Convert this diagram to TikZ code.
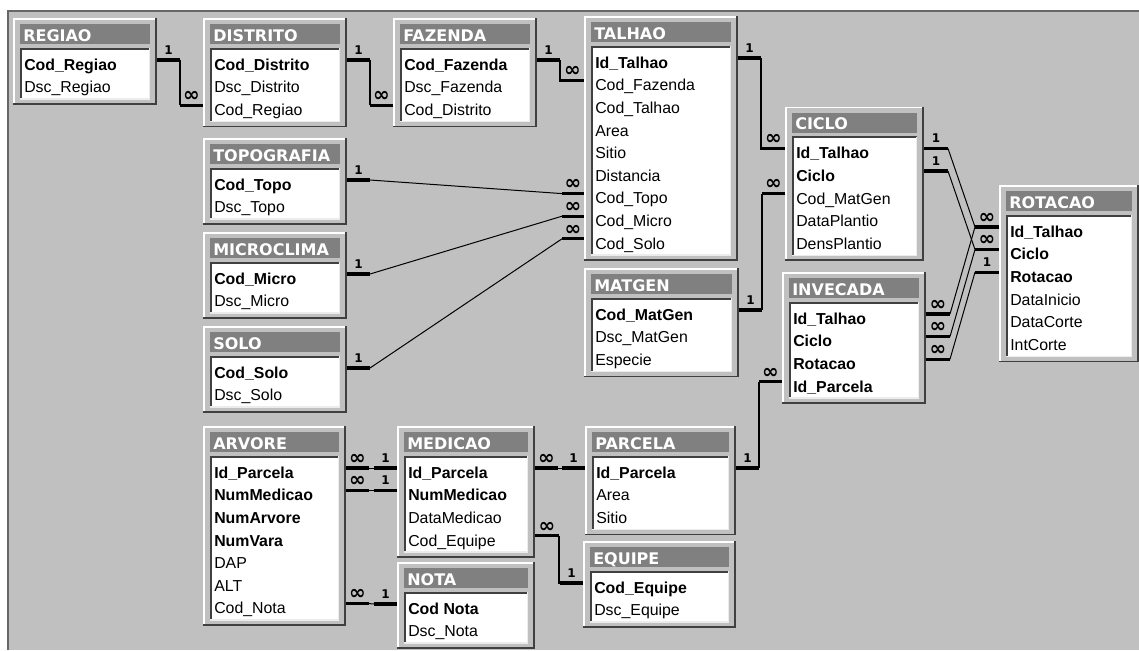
\documentclass[tikz,border=0pt]{standalone}
\usepackage{fontspec}
\setmainfont{Liberation Sans}
\newfontfamily\capfont{DejaVu Sans}

\definecolor{bggray}{RGB}{192,192,192}
\definecolor{bardark}{RGB}{128,128,128}
\definecolor{edgedark}{RGB}{64,64,64}
\definecolor{edgelight}{RGB}{236,236,236}

\tikzset{
  hilite/.style={white, line width=1.2pt},
  shade/.style={edgedark, line width=1.2pt},
  listdark/.style={edgedark, line width=1.4pt},
  listlight/.style={edgelight, line width=1.1pt},
  ttl/.style={anchor=base west, inner sep=0pt, text=white,
    font=\capfont\bfseries\fontsize{12}{12}\selectfont},
  fn/.style={anchor=base west, inner sep=0pt, font=\fontsize{11.9}{13}\selectfont},
  fb/.style={fn, font=\fontsize{11.9}{13}\selectfont\bfseries},
  stub/.style={line width=2.5pt, line cap=butt},
  joinv/.style={line width=1.6pt},
  joind/.style={line width=0.75pt},
  card1/.style={above=3.2pt, inner sep=0pt,
    font=\capfont\bfseries\fontsize{9}{9}\selectfont},
  cardn/.style={above=1.6pt, inner sep=0pt,
    font=\capfont\bfseries\fontsize{15}{15}\selectfont},
}

% #1 name, #2 left, #3 top, #4 width, #5 number of rows, #6 title, #7 rows
\newcommand\dbtable[7]{%
  \pgfmathsetmacro\tblh{41.5+22.6*#5}
  \fill[bggray] (#2,#3) rectangle ++(#4,\tblh);
  \draw[hilite] (#2+0.8,#3+\tblh) -- (#2+0.8,#3+0.8) -- (#2+#4,#3+0.8);
  \draw[shade] (#2+#4-0.8,#3) -- (#2+#4-0.8,#3+\tblh-0.8) -- (#2,#3+\tblh-0.8);
  \fill[bardark] (#2+7,#3+6) rectangle (#2+#4-7,#3+26);
  \node[ttl] (#1) at (#2+10,#3+23) {#6};
  \fill[white] (#2+7,#3+30) rectangle (#2+#4-7,#3+\tblh-5);
  \draw[listdark] (#2+7.9,#3+\tblh-5) |- (#2+#4-7,#3+30.9);
  \draw[listlight] (#2+#4-7.7,#3+30) |- (#2+7,#3+\tblh-5.7);
  \foreach \st/\txt [count=\i] in {#7}{
    \pgfmathsetmacro\rowy{#3+42+22.6*(\i-1)}
    \coordinate (#1-\i-l) at (#2,\rowy);
    \coordinate (#1-\i-r) at (#2+#4,\rowy);
    \node[f\st] (#1-\i) at (#2+11,\rowy+10.3) {\txt};
  }
}

\begin{document}
\begin{tikzpicture}[x=0.75pt,y=-0.75pt]
  \useasboundingbox (0,0) rectangle (1139,650);

  % canvas
  \fill[white] (0,0) rectangle (1139,650);
  \fill[bggray] (7,10) rectangle (1139,650);
  \draw[bardark!80!black, line width=1.3pt] (7.9,650) -- (7.9,10.9) -- (1139,10.9);

  % tables
  \dbtable{regiao}{13}{18}{144}{2}{REGIAO}{b/Cod\_Regiao, n/Dsc\_Regiao}
  \dbtable{distrito}{203}{18}{144}{3}{DISTRITO}{b/Cod\_Distrito, n/Dsc\_Distrito, n/Cod\_Regiao}
  \dbtable{fazenda}{393}{18}{144}{3}{FAZENDA}{b/Cod\_Fazenda, n/Dsc\_Fazenda, n/Cod\_Distrito}
  \dbtable{talhao}{584}{16}{154}{9}{TALHAO}{b/Id\_Talhao, n/Cod\_Fazenda, n/Cod\_Talhao,
    n/Area, n/Sitio, n/Distancia, n/Cod\_Topo, n/Cod\_Micro, n/Cod\_Solo}
  \dbtable{ciclo}{785}{106.5}{139}{5}{CICLO}{b/Id\_Talhao, b/Ciclo, n/Cod\_MatGen,
    n/DataPlantio, n/DensPlantio}
  \dbtable{rotacao}{999}{185}{140}{6}{ROTACAO}{b/Id\_Talhao, b/Ciclo, b/Rotacao,
    n/DataInicio, n/DataCorte, n/IntCorte}
  \dbtable{topografia}{203}{138}{144}{2}{TOPOGRAFIA}{b/Cod\_Topo, n/Dsc\_Topo}
  \dbtable{microclima}{203}{232}{144}{2}{MICROCLIMA}{b/Cod\_Micro, n/Dsc\_Micro}
  \dbtable{solo}{203}{326}{144}{2}{SOLO}{b/Cod\_Solo, n/Dsc\_Solo}
  \dbtable{matgen}{584}{268}{155}{3}{MATGEN}{b/Cod\_MatGen, n/Dsc\_MatGen, n/Especie}
  \dbtable{invecada}{782}{272}{144}{4}{INVECADA}{b/Id\_Talhao, b/Ciclo, b/Rotacao, b/Id\_Parcela}
  \dbtable{arvore}{203}{426}{143}{7}{ARVORE}{b/Id\_Parcela, b/NumMedicao, b/NumArvore,
    b/NumVara, n/DAP, n/ALT, n/Cod\_Nota}
  \dbtable{medicao}{397}{426}{138}{4}{MEDICAO}{b/Id\_Parcela, b/NumMedicao,
    n/DataMedicao, n/Cod\_Equipe}
  \dbtable{nota}{397}{562}{138}{2}{NOTA}{b/Cod Nota, n/Dsc\_Nota}
  \dbtable{parcela}{585}{426}{151}{3}{PARCELA}{b/Id\_Parcela, n/Area, n/Sitio}
  \dbtable{equipe}{583}{541}{153}{2}{EQUIPE}{b/Cod\_Equipe, n/Dsc\_Equipe}

  % REGIAO -- DISTRITO
  \draw[stub] (regiao-1-r) -- node[card1]{1} ++(23,0) coordinate (j1a);
  \draw[stub] (distrito-3-l) -- node[cardn]{∞} ++(-23,0) coordinate (j1b);
  \draw[joinv] (j1a) |- (j1b);

  % DISTRITO -- FAZENDA
  \draw[stub] (distrito-1-r) -- node[card1]{1} ++(23,0) coordinate (j2a);
  \draw[stub] (fazenda-3-l) -- node[cardn]{∞} ++(-23,0) coordinate (j2b);
  \draw[joinv] (j2a) |- (j2b);

  % FAZENDA -- TALHAO
  \draw[stub] (fazenda-1-r) -- node[card1]{1} ++(23,0) coordinate (j3a);
  \draw[stub] (talhao-2-l) -- node[cardn]{∞} ++(-23,0) coordinate (j3b);
  \draw[joinv] (j3a) |- (j3b);

  % TALHAO -- CICLO
  \draw[stub] (talhao-1-r) -- node[card1]{1} ++(23,0) coordinate (j4a);
  \draw[stub] (ciclo-1-l) -- node[cardn]{∞} ++(-23,0) coordinate (j4b);
  \draw[joinv] (j4a) |- (j4b);

  % TOPOGRAFIA, MICROCLIMA, SOLO -- TALHAO
  \draw[stub] (topografia-1-r) -- node[card1]{1} ++(23,0) coordinate (j5a);
  \draw[stub] (talhao-7-l) -- node[cardn]{∞} ++(-22,0) coordinate (j5b);
  \draw[joind] (j5a) -- (j5b);
  \draw[stub] (microclima-1-r) -- node[card1]{1} ++(23,0) coordinate (j6a);
  \draw[stub] (talhao-8-l) -- node[cardn]{∞} ++(-22,0) coordinate (j6b);
  \draw[joind] (j6a) -- (j6b);
  \draw[stub] (solo-1-r) -- node[card1]{1} ++(23,0) coordinate (j7a);
  \draw[stub] (talhao-9-l) -- node[cardn]{∞} ++(-22,0) coordinate (j7b);
  \draw[joind] (j7a) -- (j7b);

  % MATGEN -- CICLO
  \draw[stub] (matgen-1-r) -- node[card1]{1} ++(23,0) coordinate (j8a);
  \draw[stub] (ciclo-3-l) -- node[cardn]{∞} ++(-23,0) coordinate (j8b);
  \draw[joinv] (j8a) |- (j8b);

  % CICLO, INVECADA -- ROTACAO
  \draw[stub] (ciclo-1-r) -- node[card1]{1} ++(24,0) coordinate (c1);
  \draw[stub] (ciclo-2-r) -- node[card1]{1} ++(24,0) coordinate (c2);
  \draw[stub] (rotacao-1-l) -- node[cardn]{∞} ++(-24,0) coordinate (t1);
  \draw[stub] (rotacao-2-l) -- node[cardn]{∞} ++(-24,0) coordinate (t2);
  \draw[stub] (rotacao-3-l) -- node[card1]{1} ++(-24,0) coordinate (t3);
  \draw[stub] (invecada-1-r) -- node[cardn]{∞} ++(24,0) coordinate (v1);
  \draw[stub] (invecada-2-r) -- node[cardn]{∞} ++(24,0) coordinate (v2);
  \draw[stub] (invecada-3-r) -- node[cardn]{∞} ++(24,0) coordinate (v3);
  \draw[joind] (c1) -- (t1);
  \draw[joind] (c2) -- (t2);
  \draw[joind] (v1) -- (t1);
  \draw[joind] (v2) -- (t2);
  \draw[joind] (v3) -- (t3);

  % PARCELA -- INVECADA
  \draw[stub] (parcela-1-r) -- node[card1]{1} ++(23,0) coordinate (j9a);
  \draw[stub] (invecada-4-l) -- node[cardn]{∞} ++(-23,0) coordinate (j9b);
  \draw[joinv] (j9a) |- (j9b);

  % ARVORE -- MEDICAO, NOTA
  \draw[stub] (arvore-1-r) -- node[cardn]{∞} ++(23,0) coordinate (k1a);
  \draw[stub] (medicao-1-l) -- node[card1]{1} ++(-23,0) coordinate (k1b);
  \draw[joind] (k1a) -- (k1b);
  \draw[stub] (arvore-2-r) -- node[cardn]{∞} ++(23,0) coordinate (k2a);
  \draw[stub] (medicao-2-l) -- node[card1]{1} ++(-23,0) coordinate (k2b);
  \draw[joind] (k2a) -- (k2b);
  \draw[stub] (arvore-7-r) -- node[cardn]{∞} ++(23,0) coordinate (k3a);
  \draw[stub] (nota-1-l) -- node[card1]{1} ++(-23,0) coordinate (k3b);
  \draw[joind] (k3a) -- (k3b);

  % MEDICAO -- PARCELA, EQUIPE
  \draw[stub] (medicao-1-r) -- node[cardn]{∞} ++(23,0) coordinate (k4a);
  \draw[stub] (parcela-1-l) -- node[card1]{1} ++(-23,0) coordinate (k4b);
  \draw[joind] (k4a) -- (k4b);
  \draw[stub] (medicao-4-r) -- node[cardn]{∞} ++(24,0) coordinate (k5a);
  \draw[stub] (equipe-1-l) -- node[card1]{1} ++(-23,0) coordinate (k5b);
  \draw[joinv] (k5a) |- (k5b);

\end{tikzpicture}
\end{document}
